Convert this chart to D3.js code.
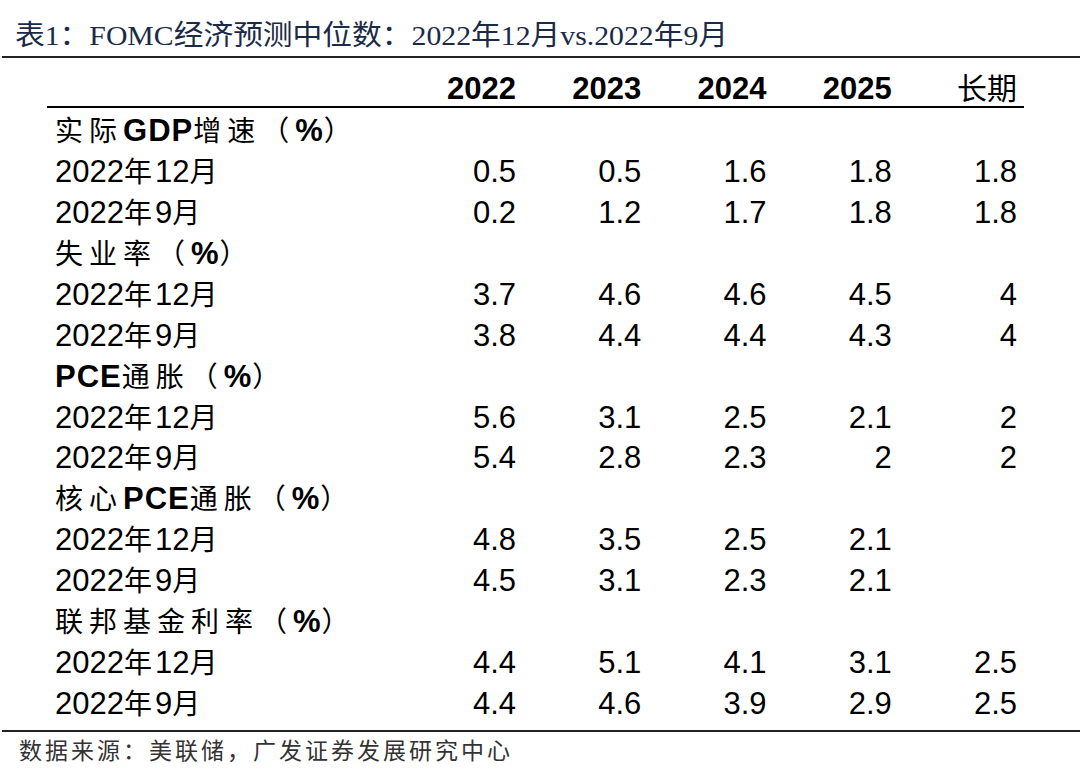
<!DOCTYPE html>
<html><head><meta charset="utf-8">
<script src="https://cdn.jsdelivr.net/npm/d3@7"></script>
<style>html,body{margin:0;padding:0;background:#fff;}</style>
</head><body>
<script>
const title = "表1：FOMC经济预测中位数：2022年12月vs.2022年9月";
const source = "数据来源：美联储，广发证券发展研究中心";
const years = ["2022", "2023", "2024", "2025", "长期"];
const vintages = ["2022年12月", "2022年9月"];
const categories = [
  [["实际", 0], ["GDP", 1], ["增速（", 0], ["%", 1], ["）", 0]],
  [["失业率（", 0], ["%", 1], ["）", 0]],
  [["PCE", 1], ["通胀（", 0], ["%", 1], ["）", 0]],
  [["核心", 0], ["PCE", 1], ["通胀（", 0], ["%", 1], ["）", 0]],
  [["联邦基金利率（", 0], ["%", 1], ["）", 0]]
];
const gdpDec = [0.5, 0.5, 1.6, 1.8, 1.8];
const gdpSep = [0.2, 1.2, 1.7, 1.8, 1.8];
const unempDec = [3.7, 4.6, 4.6, 4.5, 4];
const unempSep = [3.8, 4.4, 4.4, 4.3, 4];
const pceDec = [5.6, 3.1, 2.5, 2.1, 2];
const pceSep = [5.4, 2.8, 2.3, 2, 2];
const corePceDec = [4.8, 3.5, 2.5, 2.1, null];
const corePceSep = [4.5, 3.1, 2.3, 2.1, null];
const ffrDec = [4.4, 5.1, 4.1, 3.1, 2.5];
const ffrSep = [4.4, 4.6, 3.9, 2.9, 2.5];
const seriesValues = [[gdpDec, gdpSep], [unempDec, unempSep], [pceDec, pceSep], [corePceDec, corePceSep], [ffrDec, ffrSep]];

const W = 1080, H = 777;
const svg = d3.select("body").append("svg").attr("width", W).attr("height", H);
const sans = "'Liberation Sans', Arial, sans-serif";
const cjk = "'Noto Sans CJK SC', sans-serif";

const rowIdx = d3.range(categories.length * 3);
const y = d3.scalePoint().domain(rowIdx).range([141, 714]);
const x = d3.scalePoint().domain(years).range([516, 1017]);

// title
svg.append("text").attr("x", 15).attr("y", 45)
  .attr("font-family", "'Liberation Serif', " + cjk)
  .attr("font-size", 28).attr("fill", "#1b2a47")
  .attr("textLength", 713).attr("lengthAdjust", "spacingAndGlyphs")
  .text(title);

// rules
svg.append("line").attr("x1", 2).attr("x2", W).attr("y1", 57).attr("y2", 57).attr("stroke", "#222").attr("stroke-width", 2);
svg.append("line").attr("x1", 47).attr("x2", 1024).attr("y1", 107).attr("y2", 107).attr("stroke", "#000").attr("stroke-width", 2);
svg.append("line").attr("x1", 2).attr("x2", W).attr("y1", 731).attr("y2", 731).attr("stroke", "#222").attr("stroke-width", 2);

// header
svg.selectAll("text.hdr").data(years).join("text").attr("class", "hdr")
  .attr("x", d => x(d)).attr("y", 99).attr("text-anchor", "end")
  .attr("font-family", d => /\d/.test(d) ? sans : cjk)
  .attr("font-weight", d => /\d/.test(d) ? "bold" : "normal")
  .attr("font-size", d => /\d/.test(d) ? 31 : 30).attr("fill", "#000")
  .text(d => d);

// rows
categories.forEach((segs, i) => {
  const t = svg.append("text").attr("x", 55).attr("y", y(i * 3)).attr("font-size", 29).attr("fill", "#000");
  segs.forEach(([s, b]) => {
    t.append("tspan").attr("font-family", b ? sans : cjk).attr("font-weight", b ? "bold" : "normal")
      .attr("font-size", b ? 31 : 28).attr("letter-spacing", b ? 1 : 6).text(s);
  });
  seriesValues[i].forEach((vals, j) => {
    const ry = y(i * 3 + 1 + j);
    const lt = svg.append("text").attr("x", 55).attr("y", ry).attr("font-size", 29).attr("fill", "#000");
    vintages[j].split(/(\d+)/).filter(s => s).forEach(s => {
      const num = /\d/.test(s);
      lt.append("tspan").attr("font-family", num ? sans : cjk).attr("font-size", num ? 31 : 28)
        .attr("letter-spacing", num ? 0 : 3).text(s);
    });
    svg.selectAll(null).data(vals.map((v, k) => ({v, k})).filter(d => d.v !== null)).join("text")
      .attr("x", d => x(years[d.k])).attr("y", ry).attr("text-anchor", "end")
      .attr("font-family", sans).attr("font-size", 31).attr("fill", "#000")
      .text(d => String(d.v));
  });
});

// source
svg.append("text").attr("x", 19).attr("y", 759)
  .attr("font-family", cjk).attr("font-size", 23).attr("fill", "#333")
  .attr("textLength", 491).attr("lengthAdjust", "spacing")
  .text(source);
</script>
</body></html>
